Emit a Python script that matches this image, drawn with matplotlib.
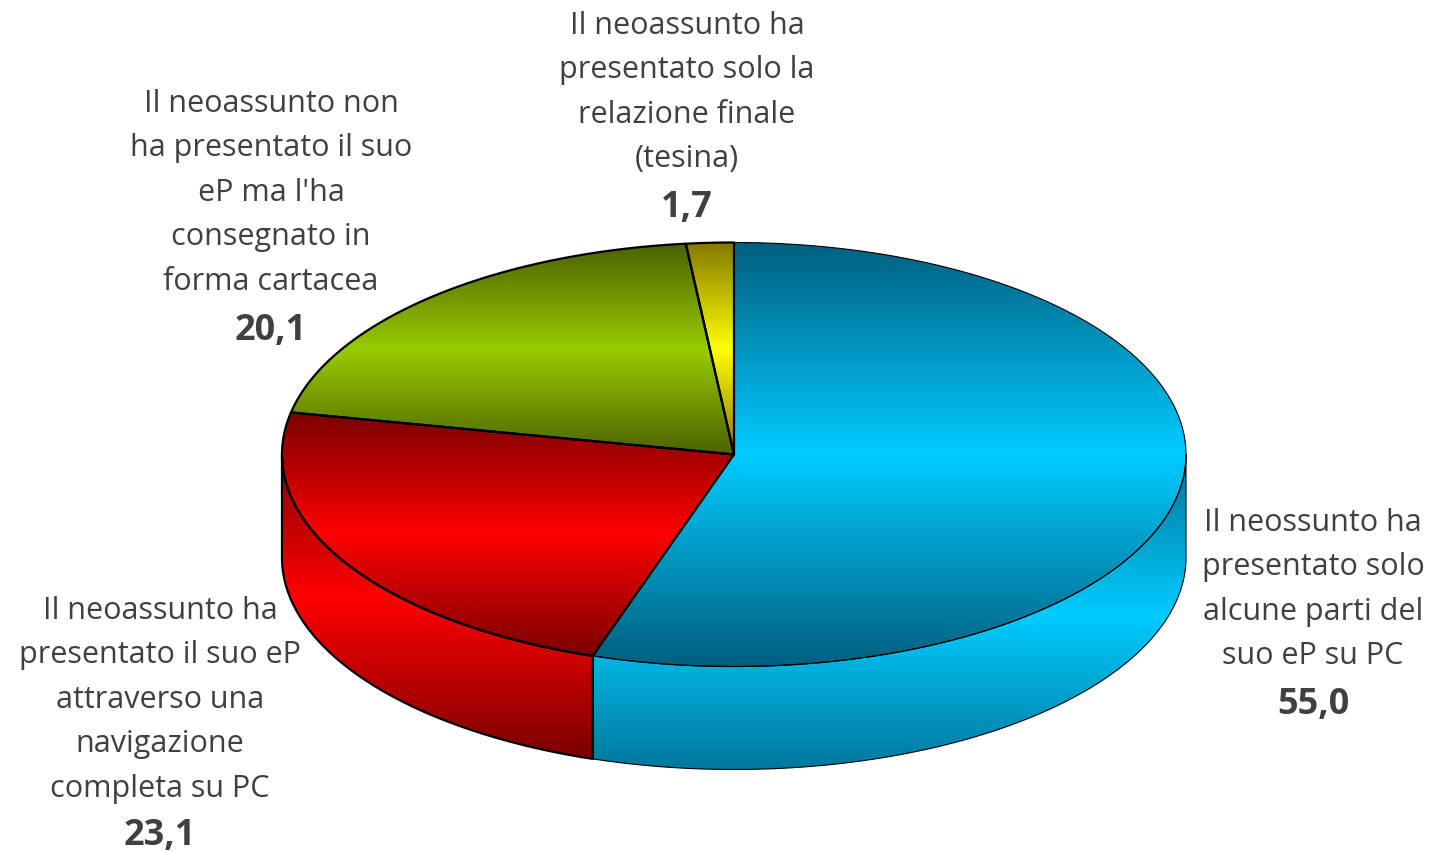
import numpy as np
import matplotlib
matplotlib.use('Agg')
import matplotlib.pyplot as plt
from matplotlib.colors import LinearSegmentedColormap
from matplotlib.patches import Polygon

values = [55.0, 23.1, 20.1, 1.7]
value_labels = ['55,0', '23,1', '20,1', '1,7']
labels = [
    ['Il neossunto ha', 'presentato solo', 'alcune parti del', 'suo eP su PC'],
    ['Il neoassunto ha', 'presentato il suo eP', 'attraverso una', 'navigazione', 'completa su PC'],
    ['Il neoassunto non', 'ha presentato il suo', "eP ma l'ha", 'consegnato in', 'forma cartacea'],
    ['Il neoassunto ha', 'presentato solo la', 'relazione finale', '(tesina)'],
]

# colours of each slice: dark edge, bright middle
dark = ['#005f7f', '#7a0000', '#4c6200', '#857a00']
side_dark = ['#00789c', '#7a0000', '#4c6200', '#857a00']
bright = ['#00ccff', '#ff0000', '#99cc00', '#ffff00']
edge_w = [0.8, 1.6, 1.6, 1.6]

# label placement in pixels
label_x = [1313, 160, 271, 687]
label_y = [531, 619, 112, 34]
value_y = [714, 845, 340, 217]
line_h = 44.4

W, H = 1435, 853
cx, cy, rx, ry = 734, 455.5, 452, 212
depth = 103
side_top = [465, 437]  # where the side gradient starts, visible sides only

plt.rcParams['font.family'] = ['Open Sans', 'DejaVu Sans']
fig = plt.figure(figsize=(W / 100, H / 100), dpi=100)
ax = fig.add_axes([0, 0, 1, 1])


def rim(a, b, dy=0, n=200):
    t = np.radians(np.linspace(a, b, n))
    return np.column_stack([cx + rx * np.sin(t), cy - ry * np.cos(t) + dy])


def fill(points, y0, y1, c_dark, c_bright, lw):
    cmap = LinearSegmentedColormap.from_list('g', [c_dark, c_bright, c_dark])
    grad = np.linspace(0, 1, 512).reshape(-1, 1)
    im = ax.imshow(grad, cmap=cmap, extent=(0, W, y1, y0), aspect='auto', origin='upper', interpolation='bilinear')
    poly = Polygon(points, closed=True, facecolor='none', edgecolor='black', lw=lw, joinstyle='round')
    ax.add_patch(poly)
    im.set_clip_path(poly)


angles = np.concatenate([[0], np.cumsum(values)]) / sum(values) * 360

# sides first, only the front half of the cake can be seen
for i in range(len(values)):
    a = max(angles[i], 90)
    b = min(angles[i + 1], 270)
    if a >= b:
        continue
    pts = np.vstack([rim(a, b), rim(b, a, depth)])
    fill(pts, side_top[i], pts[:, 1].max(), side_dark[i], bright[i], edge_w[i])

for i in range(len(values)):
    pts = np.vstack([[[cx, cy]], rim(angles[i], angles[i + 1])])
    fill(pts, pts[:, 1].min(), pts[:, 1].max(), dark[i], bright[i], edge_w[i])

for i in range(len(values)):
    for j, line in enumerate(labels[i]):
        ax.text(label_x[i], label_y[i] + j * line_h, line, ha='center', va='baseline',
                fontsize=22, color='#404040')
    ax.text(label_x[i], value_y[i], value_labels[i], ha='center', va='baseline',
            fontsize=26, fontweight='bold', color='#404040')

ax.set_xlim(0, W)
ax.set_ylim(H, 0)
ax.axis('off')
fig.savefig('out.png', dpi=100, facecolor='white')
